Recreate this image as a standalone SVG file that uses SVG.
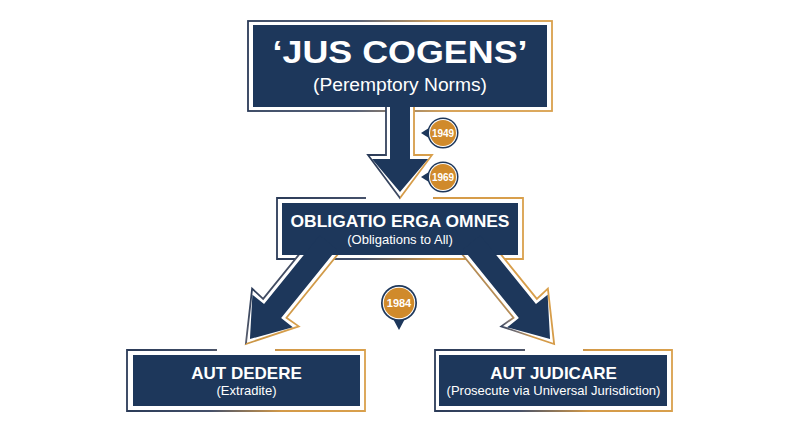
<svg xmlns="http://www.w3.org/2000/svg" width="800" height="447" viewBox="0 0 800 447">
<defs>
<style>
.frame{fill:none;stroke:url(#gFrame);stroke-width:1.8}
.navy{fill:#1d375b}
.ol{fill:#ffffff;stroke-width:1.8;stroke-linejoin:miter}
.t{font-family:"Liberation Sans",Arial,sans-serif;fill:#ffffff;text-anchor:middle}
.b{font-weight:bold}
.med{fill:#1d375b}
.medw{fill:#ffffff}
.medo{fill:#d08a2b}
.mt{font-family:"Liberation Sans",Arial,sans-serif;font-weight:bold;fill:#ffffff;text-anchor:middle}
</style>
<linearGradient id="gFrame" x1="0" y1="0" x2="1" y2="0">
<stop offset="0" stop-color="#2b3b58"/>
<stop offset="0.35" stop-color="#44506a"/>
<stop offset="0.65" stop-color="#d49a48"/>
<stop offset="1" stop-color="#d9a04c"/>
</linearGradient>
<linearGradient id="gArrowV" gradientUnits="userSpaceOnUse" x1="368" y1="0" x2="432" y2="0">
<stop offset="0" stop-color="#2b3b58"/>
<stop offset="0.5" stop-color="#3f4b63"/>
<stop offset="0.5" stop-color="#d49a48"/>
<stop offset="1" stop-color="#d9a04c"/>
</linearGradient>
<linearGradient id="gArrowL" x1="0" y1="0" x2="1" y2="0">
<stop offset="0" stop-color="#2b3b58"/>
<stop offset="0.5" stop-color="#5a5f6e"/>
<stop offset="0.5" stop-color="#c99546"/>
<stop offset="1" stop-color="#d9a04c"/>
</linearGradient>
<linearGradient id="gArrowR" x1="0" y1="0" x2="1" y2="0">
<stop offset="0" stop-color="#d9a04c"/>
<stop offset="0.7" stop-color="#d49a48"/>
<stop offset="0.85" stop-color="#7a7272"/>
<stop offset="1" stop-color="#3a4660"/>
</linearGradient>
</defs>
<rect width="800" height="447" fill="#ffffff"/>

<!-- frames -->
<g id="frames">
<rect class="frame" x="248" y="21" width="304" height="90"/>
<path class="frame" d="M366,198 H277 V259 H523 V198 H433"/>
<path class="frame" d="M217,350 H127 V411 H365 V350 H275"/>
<path class="frame" d="M525,350 H435 V411 H672 V350 H583"/>
</g>

<!-- connectors -->
<g id="connectors">
<polygon class="ol" stroke="url(#gArrowV)" points="386,100 386,155 368,155 400,198 432,155 414,155 414,100"/>
<polygon class="ol" stroke="url(#gArrowL)" transform="translate(322,250) rotate(39)" points="-15,-12 -15,75 -30,74 0,121 30,74 15,75 15,-12"/>
<polygon class="ol" stroke="url(#gArrowR)" transform="translate(478,250) scale(-1,1) rotate(39)" points="-15,-12 -15,75 -30,74 0,121 30,74 15,75 15,-12"/>
</g>

<!-- nodes -->
<g id="node-jus-cogens">
<rect class="navy" x="253" y="25" width="294" height="82"/>
<text class="t b" x="400" y="63" font-size="32" textLength="255" lengthAdjust="spacingAndGlyphs">‘JUS COGENS’</text>
<text class="t" x="400" y="91" font-size="18" textLength="174" lengthAdjust="spacingAndGlyphs">(Peremptory Norms)</text>
</g>
<g id="node-erga-omnes">
<rect class="navy" x="282" y="203" width="236" height="52"/>
<text class="t b" x="400" y="227" font-size="16.5" textLength="219" lengthAdjust="spacingAndGlyphs">OBLIGATIO ERGA OMNES</text>
<text class="t" x="400" y="244" font-size="13">(Obligations to All)</text>
</g>
<g id="node-aut-dedere">
<rect class="navy" x="133" y="355" width="227" height="51"/>
<text class="t b" x="246.5" y="379" font-size="17">AUT DEDERE</text>
<text class="t" x="246.5" y="395" font-size="13">(Extradite)</text>
</g>
<g id="node-aut-judicare">
<rect class="navy" x="439" y="355" width="228" height="51"/>
<text class="t b" x="553.5" y="379" font-size="17">AUT JUDICARE</text>
<text class="t" x="553.5" y="395" font-size="13">(Prosecute via Universal Jurisdiction)</text>
</g>

<!-- arrow bodies -->
<g id="arrows">
<polygon class="navy" points="390,100 410,100 410,159 428,159 400,192 372,159 390,159"/>
<polygon class="navy" transform="translate(322,250) rotate(39)" points="-11,-10 11,-10 11,78.5 26,78.5 0,114.5 -26,78.5 -11,78.5"/>
<polygon class="navy" transform="translate(478,250) scale(-1,1) rotate(39)" points="-11,-10 11,-10 11,78.5 26,78.5 0,114.5 -26,78.5 -11,78.5"/>
</g>

<!-- year markers -->
<g id="marker-1949" transform="translate(443,133)">
<path class="med" d="M-22,0 L-11,-7 L-11,7 Z"/>
<circle class="med" r="15.5"/>
<circle class="medw" r="14"/>
<circle class="medo" r="13"/>
<text class="mt" y="3.6" font-size="10">1949</text>
</g>
<g id="marker-1969" transform="translate(443,177)">
<path class="med" d="M-22,0 L-11,-7 L-11,7 Z"/>
<circle class="med" r="15.5"/>
<circle class="medw" r="14"/>
<circle class="medo" r="13"/>
<text class="mt" y="3.6" font-size="10">1969</text>
</g>
<g id="marker-1984" transform="translate(399,303)">
<path class="med" d="M0,27 L-8,12 L8,12 Z"/>
<circle class="med" r="18"/>
<circle class="medw" r="16.3"/>
<circle class="medo" r="15.3"/>
<text class="mt" y="4" font-size="11">1984</text>
</g>
</svg>
